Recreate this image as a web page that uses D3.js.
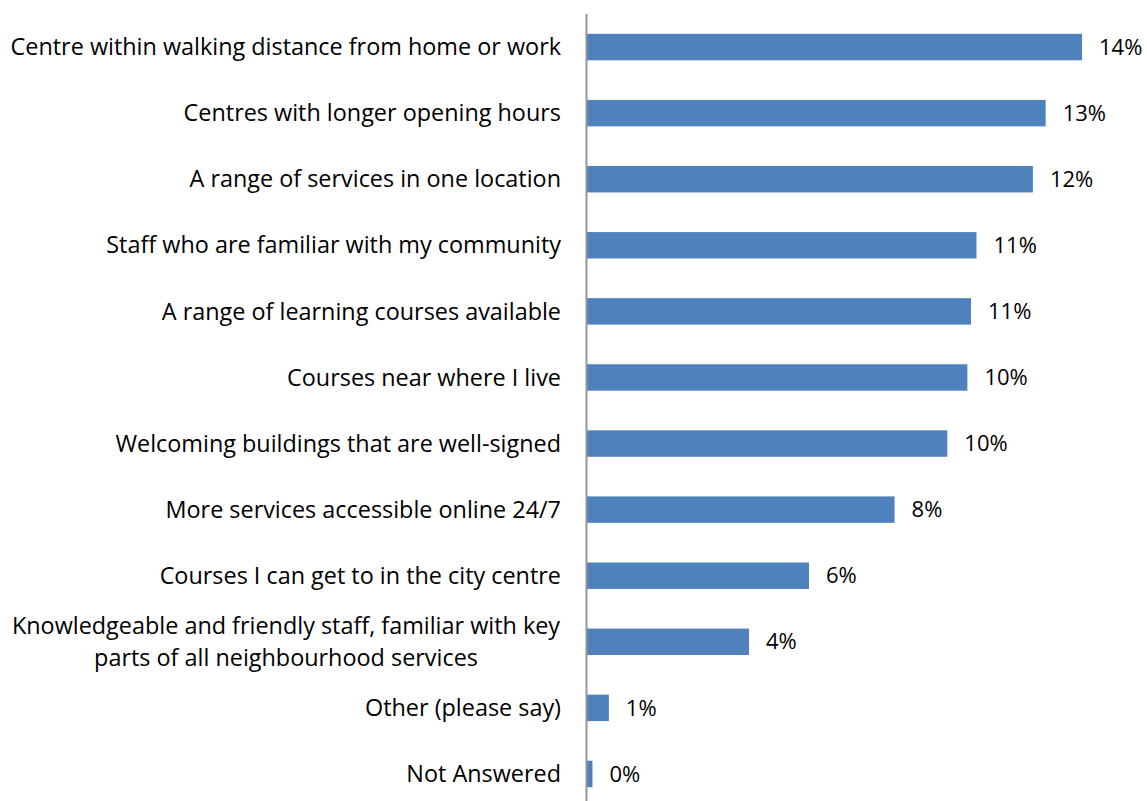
<!DOCTYPE html>
<html>
<head>
<meta charset="utf-8">
<script src="https://cdn.jsdelivr.net/npm/d3@7"></script>
<style>
  body { margin: 0; background: #fff; }
  text { font-family: "Open Sans", sans-serif; fill: #000; }
</style>
</head>
<body>
<svg id="chart"></svg>
<script>
// categories, top to bottom (wrapped labels use an array of lines)
var categories = [
  ["Centre within walking distance from home or work"],
  ["Centres with longer opening hours"],
  ["A range of services in one location"],
  ["Staff who are familiar with my community"],
  ["A range of learning courses available"],
  ["Courses near where I live"],
  ["Welcoming buildings that are well-signed"],
  ["More services accessible online 24/7"],
  ["Courses I can get to in the city centre"],
  ["Knowledgeable and friendly staff, familiar with key", "parts of all neighbourhood services"],
  ["Other (please say)"],
  ["Not Answered"]
];
// percent values
var values = [13.6, 12.6, 12.25, 10.7, 10.55, 10.45, 9.9, 8.45, 6.1, 4.45, 0.6, 0.15];

var width = 1147, height = 801;
var margin = {top: 14, left: 587};

var svg = d3.select("#chart")
    .attr("width", width)
    .attr("height", height);

var x = d3.scaleLinear()
    .domain([0, 14])
    .range([margin.left, margin.left + 14 * 36.4]);

var y = d3.scaleBand()
    .domain(d3.range(categories.length))
    .range([14, 807])
    .paddingInner(0.6)
    .paddingOuter(0.3);

// bars
svg.selectAll("rect.bar")
  .data(values)
  .enter()
  .append("rect")
    .attr("class", "bar")
    .attr("x", x(0))
    .attr("y", function(d, i) { return y(i); })
    .attr("width", function(d) { return x(d) - x(0); })
    .attr("height", y.bandwidth())
    .attr("fill", "#4F81BD");

// axis line
svg.append("line")
    .attr("x1", x(0) - 0.5).attr("x2", x(0) - 0.5)
    .attr("y1", margin.top).attr("y2", height)
    .attr("stroke", "#969696")
    .attr("stroke-width", 2);

// category labels
var labels = svg.selectAll("text.cat")
  .data(categories)
  .enter()
  .append("text")
    .attr("class", "cat")
    .attr("font-size", 23.4)
    .attr("text-anchor", function(d) { return d.length > 1 ? "middle" : "end"; })
    .attr("transform", function(d, i) {
      var cy = y(i) + y.bandwidth() / 2;
      var tx = d.length > 1 ? 286 : 561;
      return "translate(" + tx + "," + cy + ")";
    });

labels.selectAll("tspan")
  .data(function(d) { return d.map(function(s, j) { return {s: s, j: j, n: d.length}; }); })
  .enter()
  .append("tspan")
    .attr("x", 0)
    .attr("y", function(t) { return (t.j - (t.n - 1) / 2) * 32; })
    .attr("dy", "0.35em")
    .text(function(t) { return t.s; });

// value labels
svg.selectAll("text.val")
  .data(values)
  .enter()
  .append("text")
    .attr("class", "val")
    .attr("font-size", 22)
    .attr("x", function(d) { return x(d) + 17; })
    .attr("y", function(d, i) { return y(i) + y.bandwidth() / 2; })
    .attr("dy", "0.35em")
    .text(function(d) { return Math.round(d) + "%"; });
</script>
</body>
</html>
